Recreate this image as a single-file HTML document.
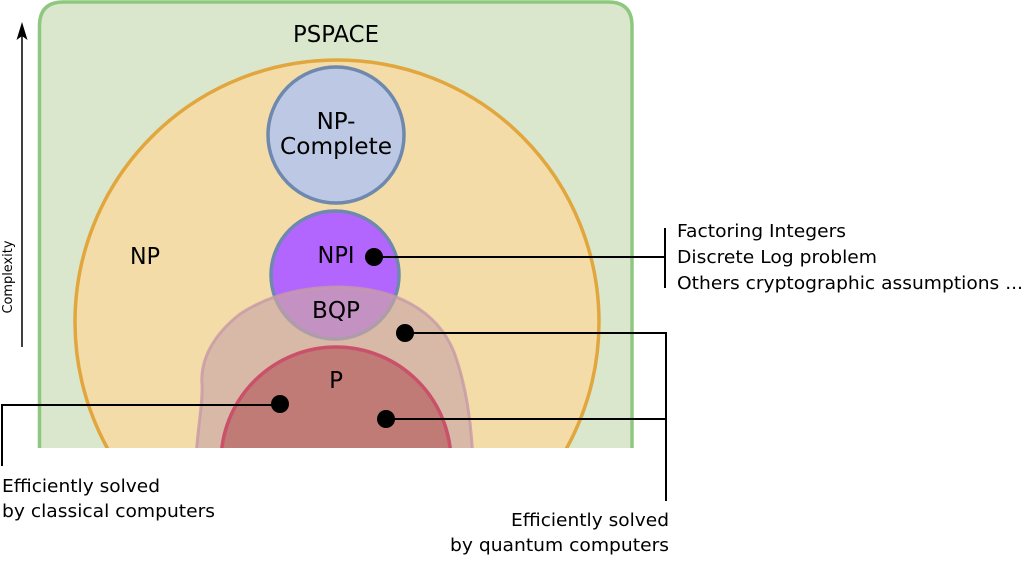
<!DOCTYPE html>
<html><head><meta charset="utf-8"><style>
html,body{margin:0;padding:0;background:#fff;}
svg{display:block;}
text{font-family:"DejaVu Sans","Liberation Sans",sans-serif;fill:#000;}
</style></head><body>
<svg width="1024" height="568" viewBox="0 0 1024 568" xmlns="http://www.w3.org/2000/svg">
<defs>
<clipPath id="c"><rect x="0" y="0" width="1024" height="448"/></clipPath>
</defs>
<g clip-path="url(#c)">
  <path d="M39.5 460 L39.5 26 Q39.5 2 63.5 2 L608 2 Q632 2 632 26 L632 460 Z" fill="#dae7cd" stroke="#8ec87e" stroke-width="3.5"/>
  <circle cx="337" cy="322" r="262" fill="#f3dca7" stroke="#e2a63e" stroke-width="3.5"/>
  <circle cx="336" cy="135" r="68" fill="#bdc8e4" stroke="#6e89ad" stroke-width="3.5"/>
  <circle cx="335" cy="275" r="64" fill="#b366fe" stroke="#6e89ad" stroke-width="3.5"/>
  <path d="M196 460 C197 430 203 405 202 385 C200 360 213 335 240 314 C270 294 305 287 340 287 C395 288 437 310 454 352 C466 385 471 420 473 460 Z" fill="rgb(203,166,165)" fill-opacity="0.68" stroke="#c798a8" stroke-opacity="0.8" stroke-width="3"/>
  <circle cx="336" cy="462" r="115" fill="#c07b76" stroke="#c9516a" stroke-width="3.5"/>
</g>
<!-- labels inside -->
<text x="336" y="42" font-size="23" text-anchor="middle" textLength="86" lengthAdjust="spacingAndGlyphs">PSPACE</text>
<text x="145" y="264" font-size="23" text-anchor="middle" textLength="30" lengthAdjust="spacingAndGlyphs">NP</text>
<text x="336" y="129" font-size="23" text-anchor="middle">NP-</text>
<text x="336" y="154" font-size="23" text-anchor="middle" textLength="112" lengthAdjust="spacingAndGlyphs">Complete</text>
<text x="336" y="263" font-size="23" text-anchor="middle" textLength="37" lengthAdjust="spacingAndGlyphs">NPI</text>
<text x="336" y="318" font-size="23" text-anchor="middle" textLength="48" lengthAdjust="spacingAndGlyphs">BQP</text>
<text x="336" y="388" font-size="23" text-anchor="middle">P</text>
<!-- complexity arrow -->
<line x1="22" y1="347" x2="22" y2="32" stroke="#000" stroke-width="1.5"/>
<path d="M22 22 L27.5 40 L22 36 L16.5 40 Z" fill="#000"/>
<text transform="translate(12,277) rotate(-90)" font-size="13" text-anchor="middle" textLength="73" lengthAdjust="spacingAndGlyphs">Complexity</text>
<!-- connectors -->
<g stroke="#000" stroke-width="2" fill="none">
  <line x1="374" y1="257" x2="665" y2="257"/>
  <line x1="665" y1="228" x2="665" y2="288"/>
  <line x1="405" y1="333" x2="666" y2="333"/>
  <line x1="386" y1="419" x2="666" y2="419"/>
  <line x1="666" y1="332" x2="666" y2="501"/>
  <line x1="280" y1="405" x2="2" y2="405"/>
  <line x1="2" y1="404" x2="2" y2="466"/>
</g>
<g fill="#000">
  <circle cx="374" cy="257" r="9"/>
  <circle cx="405" cy="333" r="9"/>
  <circle cx="280" cy="404" r="9"/>
  <circle cx="386" cy="419" r="9"/>
</g>
<!-- side texts -->
<text x="677" y="237" font-size="18" textLength="169" lengthAdjust="spacingAndGlyphs">Factoring Integers</text>
<text x="677" y="263" font-size="18" textLength="200" lengthAdjust="spacingAndGlyphs">Discrete Log problem</text>
<text x="677" y="289" font-size="18" textLength="346" lengthAdjust="spacingAndGlyphs">Others cryptographic assumptions ...</text>
<text x="2" y="492" font-size="18" textLength="158" lengthAdjust="spacingAndGlyphs">Efficiently solved</text>
<text x="2" y="517" font-size="18" textLength="213" lengthAdjust="spacingAndGlyphs">by classical computers</text>
<text x="511" y="526" font-size="18" textLength="158" lengthAdjust="spacingAndGlyphs">Efficiently solved</text>
<text x="450" y="551" font-size="18" textLength="219" lengthAdjust="spacingAndGlyphs">by quantum computers</text>
</svg>
</body></html>
